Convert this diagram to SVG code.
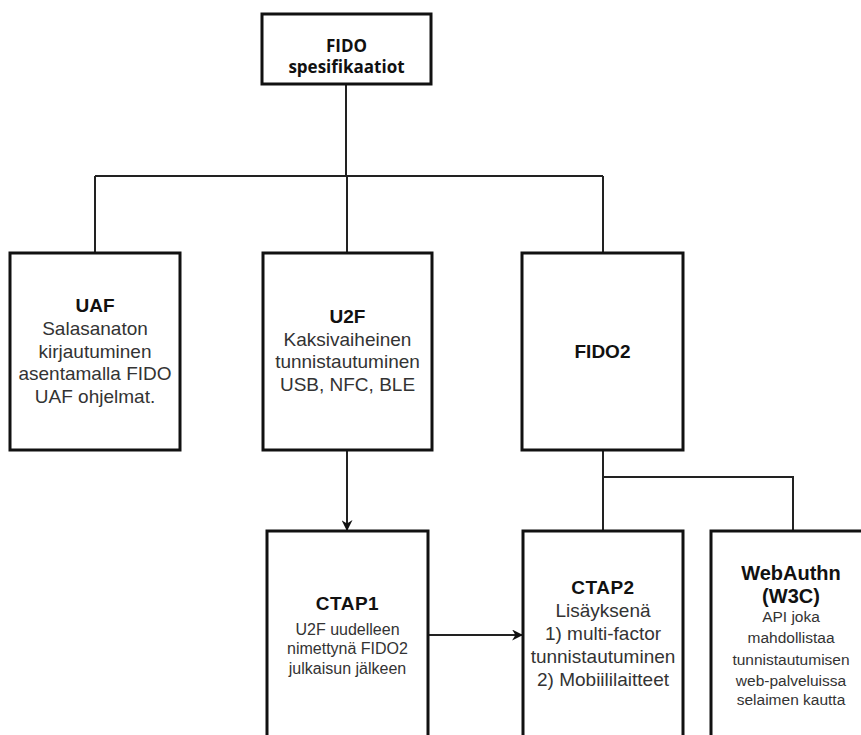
<svg xmlns="http://www.w3.org/2000/svg" width="861" height="735" viewBox="0 0 861 735">
<style>
.box{fill:#fff;stroke:#111;stroke-width:3}
.con{fill:none;stroke:#222;stroke-width:2}
.t{font-family:"Liberation Sans",Arial,sans-serif;text-anchor:middle;font-weight:bold;fill:#111}
.b{font-family:"Liberation Sans",Arial,sans-serif;text-anchor:middle;fill:#333}
.top{font-family:"Open Sans","Liberation Sans",sans-serif;text-anchor:middle;font-weight:bold;font-size:17px;fill:#111}
</style>
<defs>
<marker id="arr" viewBox="0 0 10 10" refX="9" refY="5" markerWidth="11" markerHeight="11" markerUnits="userSpaceOnUse" orient="auto">
<path d="M0,0 L10,5 L0,10 L3,5 Z" fill="#111"/>
</marker>
</defs>
<g id="connectors">
<path class="con" d="M346,84 V176 M95,176 H603 M95,176 V253 M347,176 V253 M603,176 V253"/>
<path class="con" d="M603,450 V531 M603,477 H793 V531"/>
<path class="con" d="M347,450 V530" marker-end="url(#arr)"/>
<path class="con" d="M428,635 H522" marker-end="url(#arr)"/>
</g>
<g id="fido">
<rect class="box" x="262" y="14" width="169" height="70"/>
<text class="top" x="346.5" y="52">FIDO</text>
<text class="top" x="346.5" y="73">spesifikaatiot</text>
</g>
<g id="uaf">
<rect class="box" x="10" y="253" width="170" height="197"/>
<text class="t" x="95" y="312" font-size="19">UAF</text>
<text class="b" font-size="19"><tspan x="95" y="335">Salasanaton</tspan><tspan x="95" y="357.5">kirjautuminen</tspan><tspan x="95" y="380">asentamalla FIDO</tspan><tspan x="95" y="402.5">UAF ohjelmat.</tspan></text>
</g>
<g id="u2f">
<rect class="box" x="263" y="253" width="169" height="197"/>
<text class="t" x="347.5" y="323" font-size="19">U2F</text>
<text class="b" font-size="19"><tspan x="347.5" y="345.5">Kaksivaiheinen</tspan><tspan x="347.5" y="368">tunnistautuminen</tspan><tspan x="347.5" y="390.5">USB, NFC, BLE</tspan></text>
</g>
<g id="fido2">
<rect class="box" x="522" y="253" width="161" height="197"/>
<text class="t" x="602.5" y="358" font-size="19">FIDO2</text>
</g>
<g id="ctap1">
<rect class="box" x="267" y="531" width="161" height="210"/>
<text class="t" x="347.5" y="610" font-size="19" letter-spacing="0.5">CTAP1</text>
<text class="b" font-size="16"><tspan x="347.5" y="634.5">U2F uudelleen</tspan><tspan x="347.5" y="654">nimettynä FIDO2</tspan><tspan x="347.5" y="673.5">julkaisun jälkeen</tspan></text>
</g>
<g id="ctap2">
<rect class="box" x="523" y="531" width="160" height="210"/>
<text class="t" x="603" y="594" font-size="19" letter-spacing="0.5">CTAP2</text>
<text class="b" font-size="19"><tspan x="603" y="617">Lisäyksenä</tspan><tspan x="603" y="640">1) multi-factor</tspan><tspan x="603" y="663">tunnistautuminen</tspan><tspan x="603" y="686">2) Mobiililaitteet</tspan></text>
</g>
<g id="webauthn">
<rect class="box" x="711" y="531" width="160" height="210"/>
<text class="t" font-size="20"><tspan x="791" y="580">WebAuthn</tspan><tspan x="791" y="603">(W3C)</tspan></text>
<text class="b" font-size="15.5"><tspan x="791" y="622">API joka</tspan><tspan x="791" y="643">mahdollistaa</tspan><tspan x="791" y="664.5">tunnistautumisen</tspan><tspan x="791" y="685.5">web-palveluissa</tspan><tspan x="791" y="705">selaimen kautta</tspan></text>
</g>
</svg>
